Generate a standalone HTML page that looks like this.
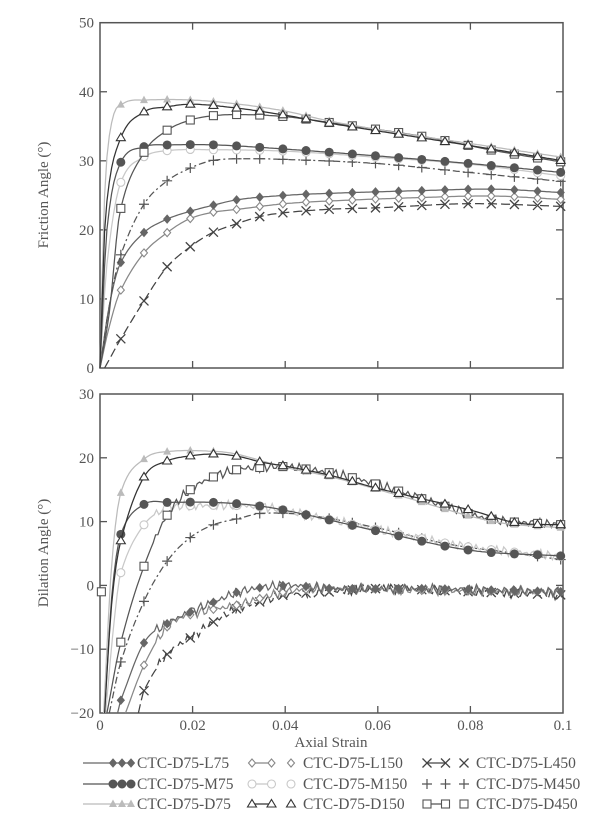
<!DOCTYPE html>
<html><head><meta charset="utf-8">
<style>
html,body{margin:0;padding:0;background:#fff;}
svg{display:block;font-family:"Liberation Serif","Times New Roman",serif;}
text{font-family:"Liberation Serif","Times New Roman",serif;}
</style></head>
<body>
<svg id="s" width="611" height="829" viewBox="0 0 611 829" xmlns="http://www.w3.org/2000/svg">
<rect width="611" height="829" fill="#fff"/>
<g id="g"></g>
</svg>
<script>
const NS="http://www.w3.org/2000/svg";
const g=document.getElementById('g');
function el(t,a,txt){const e=document.createElementNS(NS,t);for(const k in a)e.setAttribute(k,a[k]);if(txt!==undefined)e.textContent=txt;g.appendChild(e);return e;}
const X0=100,X1=563;
const px=x=>X0+x*(X1-X0)/0.1;
const topY=y=>368-y*(368-22.7)/50;
const botY=y=>394+(30-y)*(713-394)/50;

function axes(yf,ymin,ymax,ticks,label,lblY){
  const yt=yf(ymax),yb=yf(ymin);
  el('rect',{x:X0,y:yt,width:X1-X0,height:yb-yt,fill:'none',stroke:'#555','stroke-width':1.5});
  for(let i=1;i<5;i++){const x=px(i*0.02);
    el('line',{x1:x,y1:yb,x2:x,y2:yb-7,stroke:'#555','stroke-width':1.3});
    el('line',{x1:x,y1:yt,x2:x,y2:yt+7,stroke:'#555','stroke-width':1.3});}
  ticks.forEach(v=>{const y=yf(v);
    if(v!==ymin&&v!==ymax){el('line',{x1:X0,y1:y,x2:X0+7,y2:y,stroke:'#555','stroke-width':1.3});
    el('line',{x1:X1,y1:y,x2:X1-7,y2:y,stroke:'#555','stroke-width':1.3});}
    el('text',{x:X0-6,y:y+5,'text-anchor':'end','font-size':15,fill:'#555'},(v<0?'\u2212':'')+Math.abs(v));});
  el('text',{x:0,y:0,'font-size':15,fill:'#555','text-anchor':'middle',transform:`translate(48,${lblY}) rotate(-90)`},label);
}
axes(topY,0,50,[0,10,20,30,40,50],'Friction Angle (°)',195);
axes(botY,-20,30,[-20,-10,0,10,20,30],'Dilation Angle (°)',553);
['0','0.02','0.04','0.06','0.08','0.1'].forEach((t,i)=>el('text',{x:px(i*0.02),y:730,'text-anchor':'middle','font-size':15,fill:'#555'},t));
el('text',{x:331,y:747,'text-anchor':'middle','font-size':15,fill:'#555'},'Axial Strain');

function interp(pts,x){
  if(x<=pts[0][0])return pts[0][1];
  for(let i=0;i<pts.length-1;i++){
    if(x<=pts[i+1][0]){
      const p0=pts[Math.max(0,i-1)],p1=pts[i],p2=pts[i+1],p3=pts[Math.min(pts.length-1,i+2)];
      const t=(x-p1[0])/(p2[0]-p1[0]);
      const m1=(p2[1]-p0[1])/(p2[0]-p0[0]||1)*(p2[0]-p1[0]);
      const m2=(p3[1]-p1[1])/(p3[0]-p1[0]||1)*(p2[0]-p1[0]);
      const t2=t*t,t3=t2*t;
      return (2*t3-3*t2+1)*p1[1]+(t3-2*t2+t)*m1+(-2*t3+3*t2)*p2[1]+(t3-t2)*m2;
    }
  }
  return pts[pts.length-1][1];
}
function marker(type,x,y,c){
  switch(type){
    case 'dF':el('path',{d:`M${x} ${y-4}L${x+3.5} ${y}L${x} ${y+4}L${x-3.5} ${y}Z`,fill:c,stroke:c});break;
    case 'dO':el('path',{d:`M${x} ${y-4}L${x+3.5} ${y}L${x} ${y+4}L${x-3.5} ${y}Z`,fill:'#fff',stroke:c,'stroke-width':1.1});break;
    case 'x':el('path',{d:`M${x-4.5} ${y-4.5}L${x+4.5} ${y+4.5}M${x-4.5} ${y+4.5}L${x+4.5} ${y-4.5}`,stroke:c,'stroke-width':1.3});break;
    case 'cF':el('circle',{cx:x,cy:y,r:4.5,fill:c});break;
    case 'cO':el('circle',{cx:x,cy:y,r:4,fill:'#fff',stroke:c,'stroke-width':1.1});break;
    case '+':el('path',{d:`M${x-5} ${y}L${x+5} ${y}M${x} ${y-5}L${x} ${y+5}`,stroke:c,'stroke-width':1.2});break;
    case 'tF':el('path',{d:`M${x} ${y-4.5}L${x+4} ${y+3}L${x-4} ${y+3}Z`,fill:c});break;
    case 'tO':el('path',{d:`M${x} ${y-4.5}L${x+4.5} ${y+3}L${x-4.5} ${y+3}Z`,fill:'#fff',stroke:c,'stroke-width':1.1});break;
    case 'sO':el('rect',{x:x-4,y:y-4,width:8,height:8,fill:'#fff',stroke:c,'stroke-width':1.1});break;
  }
}
function series(pts,yf,c,dash,mk,jag){
  let d='';const x0=pts[0][0];
  for(let x=x0;x<=0.1000001;x+=0.0005){
    let y=interp(pts,x);
    if(jag&&x>0.012)y+=Math.sin(x*4000+jag)*0.5+Math.sin(x*9300+jag*2)*0.3;
    d+=(d?'L':'M')+px(x).toFixed(1)+' '+yf(y).toFixed(1);
  }
  const a={d:d,fill:'none',stroke:c,'stroke-width':1.25};
  if(dash)a['stroke-dasharray']=dash;
  el('path',a);
  for(let k=0;k<20;k++){const x=0.0045+0.005*k;if(x<x0+0.0005)continue;marker(mk,px(x),yf(interp(pts,x)),c);}
}
const T={
 D75:[[0,0],[0.001,25],[0.0025,35.5],[0.005,38.3],[0.01,38.8],[0.02,38.8],[0.03,38.2],[0.04,37.2],[0.05,35.7],[0.065,34],[0.08,32.5],[0.1,30.5]],
 D150:[[0,0],[0.0012,22],[0.0043,33],[0.0093,37],[0.0143,37.8],[0.02,38.2],[0.03,37.6],[0.04,36.6],[0.05,35.4],[0.065,33.8],[0.08,32.2],[0.1,30]],
 D450:[[0,0],[0.002,8],[0.0043,22.5],[0.0093,31],[0.014,34.2],[0.019,35.8],[0.024,36.5],[0.03,36.7],[0.04,36.4],[0.05,35.5],[0.07,33.5],[0.085,31.5],[0.1,29.8]],
 M75:[[0,0],[0.0015,20],[0.0043,29.5],[0.0093,32],[0.015,32.3],[0.025,32.3],[0.04,31.7],[0.06,30.7],[0.08,29.6],[0.1,28.3]],
 M150:[[0,0],[0.0015,15],[0.0043,26.5],[0.0093,30.5],[0.015,31.5],[0.025,31.6],[0.04,31.4],[0.06,30.5],[0.08,29.5],[0.1,27.8]],
 M450:[[0,0],[0.002,9],[0.0043,16],[0.0093,23.5],[0.0143,27],[0.019,28.8],[0.024,30],[0.03,30.3],[0.04,30.2],[0.06,29.6],[0.08,28.3],[0.1,27]],
 L75:[[0,0],[0.002,9],[0.0043,15],[0.0093,19.5],[0.0143,21.5],[0.019,22.6],[0.024,23.5],[0.03,24.4],[0.04,25],[0.05,25.3],[0.07,25.7],[0.085,25.9],[0.1,25.4]],
 L150:[[0,0],[0.002,6],[0.0043,11],[0.0093,16.5],[0.0143,19.5],[0.019,21.5],[0.024,22.5],[0.03,23],[0.04,23.8],[0.05,24.2],[0.07,24.7],[0.085,24.9],[0.1,24.4]],
 L450:[[0.001,0],[0.0043,4],[0.0093,9.5],[0.0143,14.5],[0.019,17.3],[0.024,19.5],[0.03,21],[0.035,22],[0.04,22.5],[0.05,23],[0.06,23.2],[0.08,23.8],[0.1,23.4]]
};
series(T.L450,topY,'#444','9,4','x');
series(T.L150,topY,'#888',null,'dO');
series(T.L75,topY,'#666',null,'dF');
series(T.M450,topY,'#555','7,3,2,3','+');
series(T.M150,topY,'#c8c8c8',null,'cO');
series(T.M75,topY,'#555',null,'cF');
series(T.D450,topY,'#555',null,'sO');
series(T.D75,topY,'#bbb',null,'tF');
series(T.D150,topY,'#333',null,'tO');
const B={
 D75:[[0.0008,-20],[0.0025,3],[0.0045,14.5],[0.0095,19.8],[0.015,21],[0.025,21],[0.03,20.5],[0.04,18.5],[0.05,17],[0.065,14],[0.085,10],[0.1,9]],
 D150:[[0.001,-20],[0.0025,-3],[0.0045,7],[0.0095,17],[0.0145,19.5],[0.0195,20.3],[0.025,20.6],[0.03,20.2],[0.035,19.3],[0.04,18.7],[0.05,17.2],[0.06,15.2],[0.08,11.8],[0.09,9.8],[0.1,9.5]],
 D450:[[0.0015,-20],[0.0045,-8.9],[0.0095,3],[0.0145,11],[0.0195,15],[0.0245,17],[0.03,18.2],[0.035,18.5],[0.04,18.6],[0.05,17.6],[0.06,15.8],[0.075,12.3],[0.085,10.3],[0.1,9.5]],
 M75:[[0.001,-20],[0.0025,-2],[0.0045,8],[0.0095,12.7],[0.015,13],[0.025,13],[0.035,12.4],[0.045,11],[0.06,8.5],[0.08,5.5],[0.1,4.6]],
 M150:[[0.0012,-20],[0.003,-6],[0.0045,2],[0.0095,9.5],[0.0145,12],[0.02,12.5],[0.035,12.3],[0.045,11],[0.065,8],[0.08,6],[0.1,4.5]],
 M450:[[0.002,-20],[0.0045,-12],[0.0095,-2.5],[0.0145,3.8],[0.0195,7.5],[0.0245,9.5],[0.03,10.5],[0.035,11.3],[0.045,11],[0.06,9],[0.075,6.5],[0.09,5],[0.1,4]],
 L75:[[0.0038,-20],[0.0045,-18],[0.0095,-9],[0.0145,-6],[0.02,-4],[0.025,-2.5],[0.03,-1],[0.04,0],[0.05,-0.5],[0.07,-0.5],[0.1,-1]],
 L150:[[0.0055,-20],[0.0095,-12.5],[0.0145,-6.5],[0.02,-4.5],[0.03,-3],[0.04,-1],[0.05,-0.5],[0.07,-0.8],[0.1,-1]],
 L450:[[0.0083,-20],[0.0095,-16.5],[0.0145,-10.8],[0.02,-8],[0.025,-5.5],[0.03,-3.5],[0.035,-2.5],[0.04,-1.5],[0.05,-1],[0.06,-0.5],[0.08,-1],[0.1,-1.5]]
};
series(B.L450,botY,'#444','9,4','x',1);
series(B.L150,botY,'#888',null,'dO',2);
series(B.L75,botY,'#666',null,'dF',3);
series(B.M450,botY,'#555','7,3,2,3','+');
series(B.M150,botY,'#c8c8c8',null,'cO',4);
series(B.M75,botY,'#555',null,'cF');
series(B.D450,botY,'#555',null,'sO',5);
series(B.D75,botY,'#bbb',null,'tF');
series(B.D150,botY,'#333',null,'tO');
marker('sO',px(0.0003),botY(-1),'#555');
// LEGEND
const rows=[768,789,809];
const cols=[[83,137],[247,303],[422,476]];
const L=[
 ['#666',null,'dF','CTC-D75-L75'],['#888',null,'dO','CTC-D75-L150'],['#444','9,4','x','CTC-D75-L450'],
 ['#555',null,'cF','CTC-D75-M75'],['#c8c8c8',null,'cO','CTC-D75-M150'],['#555','7,3,2,3','+','CTC-D75-M450'],
 ['#bbb',null,'tF','CTC-D75-D75'],['#333',null,'tO','CTC-D75-D150'],['#555',null,'sO','CTC-D75-D450']];
L.forEach((l,i)=>{const r=Math.floor(i/3),c=i%3;const y=rows[r]-5;const [x0,xt]=cols[c];
  let xs;
  if(c===0){xs=[xt-24,xt-15,xt-6];el('line',{x1:x0,y1:y,x2:xs[2],y2:y,stroke:l[0],'stroke-width':1.3});}
  else{const a=x0+5,b=xt-12;xs=[a,(a+b)/2,b];
    if(l[2]!=='+')el('line',{x1:xs[0],y1:y,x2:xs[1],y2:y,stroke:l[0],'stroke-width':1.3});}
  xs.forEach(x=>marker(l[2],x,y,l[0]));
  el('text',{x:xt,y:rows[r],'font-size':15.5,fill:'#555'},l[3]);
});
</script>
</body></html>
